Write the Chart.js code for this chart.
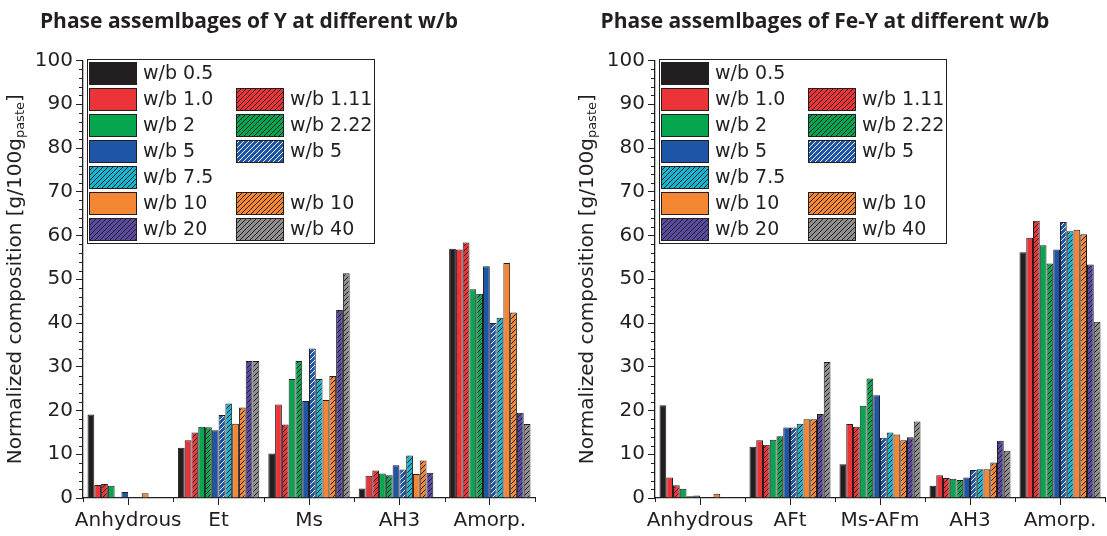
<!DOCTYPE html>
<html>
<head>
<meta charset="utf-8">
<script src="https://cdn.jsdelivr.net/npm/chart.js@4"></script>
<style>
  html, body { margin: 0; padding: 0; background: #fff; width: 1107px; height: 536px; overflow: hidden; position: relative; }
  canvas { position: absolute; top: 0; }
  #chartY { left: 0; }
  #chartFeY { left: 572px; }
</style>
</head>
<body>
<canvas id="chartY" width="553" height="536"></canvas>
<canvas id="chartFeY" width="535" height="536"></canvas>
<script>
// ---- data ----------------------------------------------------------------
const wbLabels = ['w/b 0.5', 'w/b 1.0', 'w/b 1.11', 'w/b 2', 'w/b 2.22', 'w/b 5',
                  'w/b 5', 'w/b 7.5', 'w/b 10', 'w/b 10', 'w/b 20', 'w/b 40'];
const phasesY   = ['Anhydrous', 'Et', 'Ms', 'AH3', 'Amorp.'];
const phasesFeY = ['Anhydrous', 'AFt', 'Ms-AFm', 'AH3', 'Amorp.'];
const yTickLabels = ['0', '10', '20', '30', '40', '50', '60', '70', '80', '90', '100'];

// Y system, g/100 g paste, in the order of phasesY
const y_wb0_5  = [19.1, 11.5, 10.2, 2.2, 57.0];
const y_wb1_0  = [3.0, 13.2, 21.4, 5.1, 56.8];
const y_wb1_11 = [3.2, 15.0, 16.8, 6.3, 58.4];
const y_wb2    = [2.8, 16.3, 27.2, 5.6, 47.7];
const y_wb2_22 = [0.3, 16.2, 31.3, 5.2, 46.7];
const y_wb5    = [1.4, 15.5, 22.2, 7.5, 53.0];
const y_wb5b   = [0, 19.0, 34.2, 6.5, 40.0];
const y_wb7_5  = [0, 21.6, 27.2, 9.7, 41.2];
const y_wb10   = [1.1, 17.0, 22.4, 5.5, 53.7];
const y_wb10b  = [0, 20.7, 27.9, 8.6, 42.4];
const y_wb20   = [0, 31.3, 43.0, 5.8, 19.5];
const y_wb40   = [0, 31.3, 51.4, 0, 16.9];

// Fe-Y system, g/100 g paste, in the order of phasesFeY
const fe_wb0_5  = [21.2, 11.7, 7.7, 2.8, 56.2];
const fe_wb1_0  = [4.7, 13.2, 16.9, 5.2, 59.5];
const fe_wb1_11 = [2.9, 12.2, 16.3, 4.6, 63.4];
const fe_wb2    = [2.1, 13.3, 21.1, 4.4, 57.8];
const fe_wb2_22 = [0.4, 14.1, 27.3, 4.1, 53.6];
const fe_wb5    = [0.6, 16.1, 23.5, 4.7, 56.8];
const fe_wb5b   = [0, 16.1, 13.8, 6.4, 63.1];
const fe_wb7_5  = [0, 17.0, 15.0, 6.6, 61.0];
const fe_wb10   = [1.0, 18.0, 14.5, 6.6, 61.3];
const fe_wb10b  = [0, 18.0, 13.2, 8.1, 60.3];
const fe_wb20   = [0, 19.2, 13.9, 13.1, 53.4];
const fe_wb40   = [0, 31.1, 17.5, 10.8, 40.3];

// ---- styling -------------------------------------------------------------
const INK = '#231f20';
// fill colour per series, plus hatch line colour for the striped ones
const looks = [
  { c: '#231f20' },
  { c: '#ec3338' },
  { c: '#ec3338', h: INK },
  { c: '#05a64f' },
  { c: '#05a64f', h: INK },
  { c: '#1d56a6' },
  { c: '#1d56a6', h: '#ffffff' },
  { c: '#17b5d0', h: INK },
  { c: '#f58634' },
  { c: '#f58634', h: INK },
  { c: '#5a4aa0', h: INK },
  { c: '#8f8f8f', h: INK }
];

// legend grid: [left column, right column] series indices per row
const legendRows = [[0, null], [1, 2], [3, 4], [5, 6], [7, null], [8, 9], [10, 11]];

function makeFill(ctx, look) {
  if (!look.h) return look.c;
  const s = 5;
  const tile = document.createElement('canvas');
  tile.width = s; tile.height = s;
  const g = tile.getContext('2d');
  g.fillStyle = look.c;
  g.fillRect(0, 0, s, s);
  g.strokeStyle = look.h;
  g.lineWidth = 1;
  g.beginPath();
  g.moveTo(-1, s + 1); g.lineTo(s + 1, -1);
  g.moveTo(-1, 1); g.lineTo(1, -1);
  g.moveTo(s - 1, s + 1); g.lineTo(s + 1, s - 1);
  g.stroke();
  return ctx.createPattern(tile, 'repeat');
}

// titles, y-axis caption with subscript, minor ticks and the two-column legend
const decor = {
  id: 'decor',
  afterDraw(chart, args, opts) {
    const { ctx, chartArea: a, scales: { x, y } } = chart;
    ctx.save();
    ctx.fillStyle = INK;
    ctx.strokeStyle = INK;

    // chart title
    ctx.font = 'bold 21px "Open Sans"';
    ctx.textAlign = 'center';
    ctx.textBaseline = 'alphabetic';
    ctx.fillText(opts.title, opts.titleX, 28);

    // y-axis caption
    ctx.save();
    ctx.translate(opts.yTitleX, (a.top + a.bottom) / 2);
    ctx.rotate(-Math.PI / 2);
    const mainFont = '20px "DejaVu Sans"', subFont = '13px "DejaVu Sans"';
    const partA = 'Normalized composition [g/100g', partB = 'paste', partC = ']';
    ctx.font = mainFont; const wA = ctx.measureText(partA).width, wC = ctx.measureText(partC).width;
    ctx.font = subFont;  const wB = ctx.measureText(partB).width;
    let cx = -(wA + wB + wC) / 2;
    ctx.textAlign = 'left';
    ctx.textBaseline = 'middle';
    ctx.font = mainFont; ctx.fillText(partA, cx, 0); cx += wA;
    ctx.font = subFont;  ctx.fillText(partB, cx, 5); cx += wB;
    ctx.font = mainFont; ctx.fillText(partC, cx, 0);
    ctx.restore();

    // minor ticks
    ctx.lineWidth = 1;
    ctx.beginPath();
    for (let v = 2; v < 100; v += 2) {
      if (v % 10 === 0) continue;
      const py = Math.round(y.getPixelForValue(v)) + 0.5;
      ctx.moveTo(a.left - 4, py); ctx.lineTo(a.left, py);
    }
    const n = chart.data.labels.length;
    for (let i = 0; i <= n; i++) {
      const px = Math.round(x.left + i * (x.width / n)) + 0.5;
      ctx.moveTo(px, a.bottom); ctx.lineTo(px, a.bottom + 4);
    }
    ctx.stroke();

    // legend
    const bx = a.left + 4, by = a.top - 1.5, bw = 287, bh = 184;
    ctx.fillStyle = '#ffffff';
    ctx.fillRect(bx, by, bw, bh);
    ctx.lineWidth = 1;
    ctx.strokeRect(bx + 0.5, by + 0.5, bw, bh);
    ctx.font = '19px "DejaVu Sans"';
    ctx.textAlign = 'left';
    ctx.textBaseline = 'middle';
    const colX = [a.left + 6, a.left + 153];
    legendRows.forEach((row, r) => {
      const ry = Math.round(a.top + 1.5 + r * 26);
      row.forEach((idx, col) => {
        if (idx === null) return;
        const ds = chart.data.datasets[idx];
        const sx = Math.round(colX[col]);
        ctx.fillStyle = ds.backgroundColor;
        ctx.fillRect(sx, ry, 48, 23);
        ctx.strokeStyle = INK;
        ctx.strokeRect(sx + 0.5, ry + 0.5, 47, 22);
        ctx.fillStyle = INK;
        ctx.fillText(ds.label, sx + 54, ry + 12.5);
      });
    });
    ctx.restore();
  }
};

function buildChart(canvasId, title, titleX, cats, series, rightPad) {
  const ctx = document.getElementById(canvasId).getContext('2d');
  const datasets = series.map((d, i) => ({
    label: wbLabels[i],
    data: d,
    backgroundColor: makeFill(ctx, looks[i]),
    borderColor: INK,
    borderWidth: 1
  }));
  const tickFont = { family: '"DejaVu Sans"', size: 20 };
  return new Chart(ctx, {
    type: 'bar',
    data: { labels: cats, datasets },
    options: {
      responsive: false,
      animation: false,
      devicePixelRatio: 1,
      layout: { padding: { top: 60.5, right: rightPad, left: 0, bottom: 0 } },
      datasets: { bar: { categoryPercentage: 0.9, barPercentage: 1 } },
      plugins: {
        legend: { display: false },
        tooltip: { enabled: false },
        decor: { title, titleX, yTitleX: 16 }
      },
      scales: {
        x: {
          grid: { offset: false, drawOnChartArea: false, drawTicks: true, tickLength: 7, color: INK, lineWidth: 1 },
          border: { display: true, color: INK, width: 1.3 },
          ticks: { color: INK, font: tickFont, padding: 4, maxRotation: 0, autoSkip: false },
          afterFit(s) { s.height = 38; }
        },
        y: {
          min: 0,
          max: 100,
          afterBuildTicks(s) { s.ticks = yTickLabels.map(t => ({ value: Number(t) })); },
          grid: { drawOnChartArea: false, drawTicks: true, tickLength: 7, color: INK, lineWidth: 1 },
          border: { display: true, color: INK, width: 1.3 },
          ticks: { color: INK, font: tickFont, padding: 3, callback: (v, i) => yTickLabels[i] },
          afterFit(s) { s.width = 83; }
        }
      }
    },
    plugins: [decor]
  });
}

buildChart('chartY', 'Phase assemlbages of Y at different w/b', 249, phasesY,
  [y_wb0_5, y_wb1_0, y_wb1_11, y_wb2, y_wb2_22, y_wb5, y_wb5b, y_wb7_5, y_wb10, y_wb10b, y_wb20, y_wb40], 18);
buildChart('chartFeY', 'Phase assemlbages of Fe-Y at different w/b', 253, phasesFeY,
  [fe_wb0_5, fe_wb1_0, fe_wb1_11, fe_wb2, fe_wb2_22, fe_wb5, fe_wb5b, fe_wb7_5, fe_wb10, fe_wb10b, fe_wb20, fe_wb40], 2);
</script>
</body>
</html>
